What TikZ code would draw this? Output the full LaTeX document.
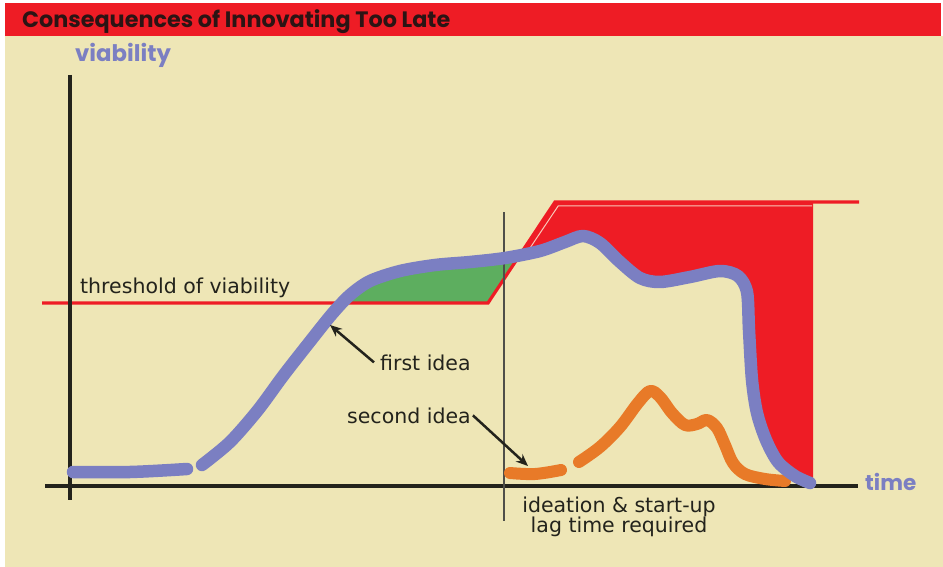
\documentclass[tikz,border=0pt]{standalone}
\usepackage{fontspec}
\setmainfont{DejaVu Sans}
\newfontfamily\titlefont{Poppins}
\usetikzlibrary{arrows.meta}
\definecolor{bg}{HTML}{EEE6B6}
\definecolor{hdr}{HTML}{EE1C25}
\definecolor{redfill}{HTML}{EE1C25}
\definecolor{peri}{HTML}{7B7FC2}
\definecolor{orng}{HTML}{E87A28}
\definecolor{grn}{HTML}{5DAE5F}
\definecolor{ink}{HTML}{23231C}
\definecolor{titleink}{HTML}{2B1414}
\definecolor{pale}{HTML}{F8C8B8}
\def\bluepts{(202,465) (230,442) (258,410) (283,376) (308,344) (332,314) (350,295) (370,281) (400,271) (435,265) (470,262) (505,258) (540,251) (565,242) (583,236) (600,243) (620,262) (640,278) (660,282) (690,277) (720,271) (738,276) (747,292) (749,330) (752,380) (757,413) (766,440) (778,462) (795,476) (810,483)}
\tikzset{
  lbl/.style={font=\fontsize{20.5}{24}\selectfont, text=ink, inner sep=0pt},
  axis/.style={draw=ink, line width=3.4pt},
  thresh/.style={draw=redfill, line width=3.2pt, line join=miter},
  curveb/.style={draw=peri, line width=12.5pt, line cap=round, line join=round},
  curveo/.style={draw=orng, line width=12pt, line cap=round, line join=round},
  pointer/.style={draw=ink, line width=2.5pt, -{Stealth[length=12pt,width=10pt]}},
  divider/.style={draw=ink!80, line width=1.3pt}
}
\begin{document}
\begin{tikzpicture}[x=1pt,y=-1pt]
\useasboundingbox (0,0) rectangle (943,567);
\fill[white] (0,0) rectangle (943,567);
\fill[bg] (5,36) rectangle (943,567);
\fill[hdr] (5,3) rectangle (941,36);
\node[anchor=base west, inner sep=0pt, text=titleink, font=\titlefont\bfseries\fontsize{22.3}{24}\selectfont] (title) at (22,28) {Consequences of Innovating Too Late};
\node[anchor=base west, inner sep=0pt, text=peri, font=\titlefont\bfseries\fontsize{22.8}{24}\selectfont] (vlab) at (75,62) {viability};
\node[anchor=base west, inner sep=0pt, text=peri, font=\titlefont\bfseries\fontsize{21.5}{24}\selectfont] (tlab) at (865,490) {time};

% fills
\begin{scope}
  \clip plot[smooth, tension=0.5] coordinates {\bluepts} -- (813,487) -- (900,487) -- (900,0) -- (202,0) -- cycle;
  \fill[redfill] (488,303) -- (555,202) -- (813,202) -- (813,487) -- (488,487) -- cycle;
\end{scope}
\begin{scope}
  \clip plot[smooth, tension=0.5] coordinates {\bluepts} -- (810,600) -- (202,600) -- cycle;
  \fill[grn] (300,303) -- (488,303) -- (555,202) -- (555,100) -- (300,100) -- cycle;
\end{scope}

% threshold line
\coordinate (t0) at (42,303);
\coordinate (t1) at (488,303);
\coordinate (t2) at (555,202);
\coordinate (t3) at (859,202);
\draw[thresh] (t0) -- (t1) -- (t2) -- (t3);
\coordinate (p0) at (527,252.5);
\coordinate (p1) at (558.3,205.8);
\coordinate (p2) at (812,205.8);
\draw[draw=pale, line width=1pt] (p0) -- (p1) -- (p2);

% axes
\coordinate (ytop) at (70,75);
\coordinate (ybot) at (70,500);
\coordinate (xl) at (45,486);
\coordinate (xr) at (858,486);
\draw[axis] (ytop) -- (ybot);
\draw[axis] (xl) -- (xr);
\coordinate (dtop) at (504,212);
\coordinate (dbot) at (504,521);
\draw[divider] (dtop) -- (dbot);

% orange curve
\draw[curveo] plot[smooth, tension=0.6] coordinates {(510,473) (535,474) (561,470)};
\draw[curveo] plot[smooth, tension=0.55] coordinates {(579,462) (600,447) (620,427) (638,403) (650,391) (660,397) (672,413) (685,425) (697,424) (707,420) (717,428) (725,445) (733,463) (745,474) (765,479) (785,481)};

% blue curve
\draw[curveb] plot[smooth, tension=0.6] coordinates {(73,472) (130,472) (187,469)};
\draw[curveb] plot[smooth, tension=0.5] coordinates {\bluepts};

% labels
\node[lbl, anchor=base west] (thr) at (80,293) {threshold of viability};
\node[lbl, anchor=base west] (first) at (380,370) {first idea};
\node[lbl, anchor=base west] (second) at (347,423) {second idea};
\node[lbl, anchor=base] (ideation) at (619,512) {ideation \& start-up};
\node[lbl, anchor=base] (lag) at (619,532) {lag time required};

\coordinate (fitip) at (330,325);
\coordinate (sitip) at (528,466);
\draw[pointer] ([xshift=-6pt]first.west) -- (fitip);
\draw[pointer] ([xshift=2pt]second.east) -- (sitip);
\end{tikzpicture}
\end{document}
